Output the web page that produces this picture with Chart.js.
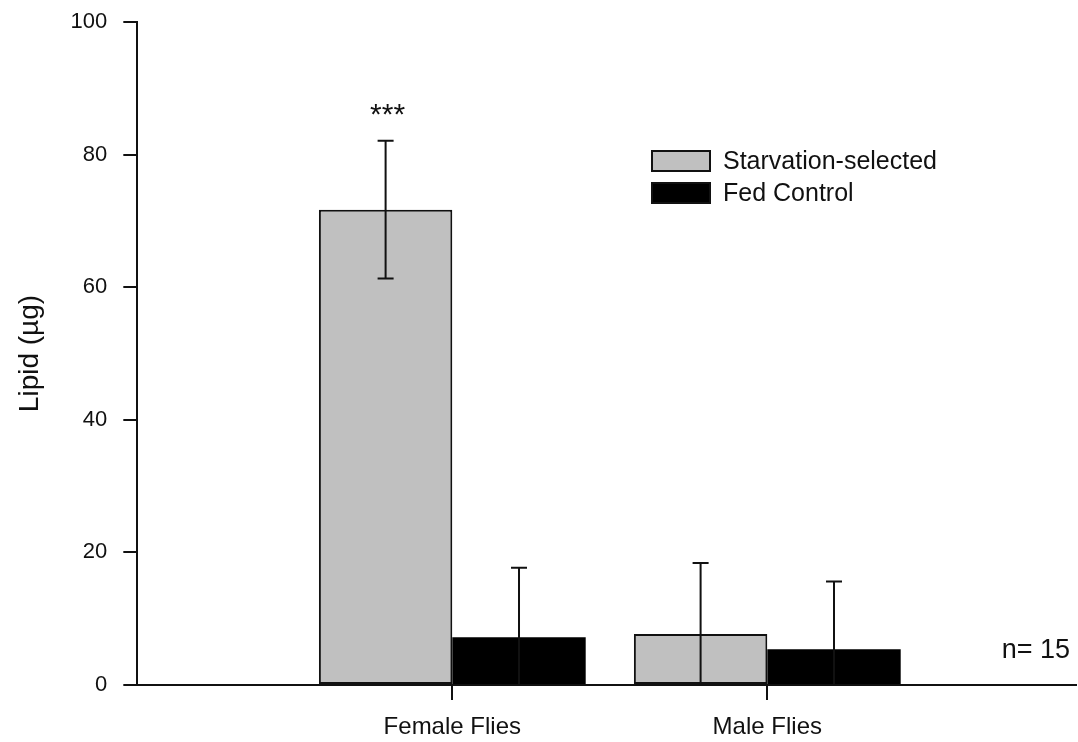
<!DOCTYPE html>
<html>
<head>
<meta charset="utf-8">
<script src="https://cdn.jsdelivr.net/npm/chart.js@4.4.1/dist/chart.umd.min.js"></script>
<style>
  html, body { margin: 0; padding: 0; background: #fff; }
  #wrap { width: 1078px; height: 742px; }
</style>
</head>
<body>
<div id="wrap"><canvas id="lipidChart" width="1078" height="742"></canvas></div>
<script>
const categories = ['Female Flies', 'Male Flies'];
const starvation = [71.7, 7.7];
const starvationErr = [10.4, 10.7];
const fedControl = [7.2, 5.4];
const fedErr = [10.5, 10.2];
const yTicks = [0, 20, 40, 60, 80, 100];
const seriesNames = ['Starvation-selected', 'Fed Control'];

const FONT = '"Liberation Sans", Arial, sans-serif';

// error bars drawn on top of each bar
const errorBars = {
    id: 'errorBars',
    afterDatasetsDraw(chart) {
        const ctx = chart.ctx;
        const y = chart.scales.y;
        const errs = [starvationErr, fedErr];
        ctx.save();
        ctx.strokeStyle = '#111';
        ctx.lineWidth = 2;
        chart.data.datasets.forEach((ds, d) => {
            chart.getDatasetMeta(d).data.forEach((bar, i) => {
                const v = ds.data[i].y;
                const hi = y.getPixelForValue(v + errs[d][i]);
                const loVal = v - errs[d][i];
                const lo = y.getPixelForValue(Math.max(loVal, 0));
                ctx.beginPath();
                ctx.moveTo(bar.x, hi);
                ctx.lineTo(bar.x, lo);
                ctx.moveTo(bar.x - 8, hi);
                ctx.lineTo(bar.x + 8, hi);
                if (loVal > 0) {
                    ctx.moveTo(bar.x - 8, lo);
                    ctx.lineTo(bar.x + 8, lo);
                }
                ctx.stroke();
            });
        });
        ctx.restore();
    }
};

// legend, significance stars and n label
const extras = {
    id: 'extras',
    afterDraw(chart) {
        const ctx = chart.ctx;
        const y = chart.scales.y;
        ctx.save();
        ctx.font = '25px ' + FONT;
        ctx.textBaseline = 'middle';
        const fills = ['#c0c0c0', '#000000'];
        seriesNames.forEach((name, i) => {
            const top = 151 + i * 32;
            ctx.fillStyle = fills[i];
            ctx.fillRect(652, top, 58, 20);
            ctx.strokeStyle = '#111';
            ctx.lineWidth = 2;
            ctx.strokeRect(652, top, 58, 20);
            ctx.fillStyle = '#111';
            ctx.textAlign = 'left';
            ctx.fillText(name, 723, top + 11);
        });

        const bar = chart.getDatasetMeta(0).data[0];
        const topY = y.getPixelForValue(starvation[0] + starvationErr[0]);
        ctx.textAlign = 'center';
        ctx.textBaseline = 'alphabetic';
        ctx.font = '30px ' + FONT;
        ctx.fillText('***', bar.x + 2, topY - 17);

        ctx.textBaseline = 'middle';
        ctx.font = '27px ' + FONT;
        ctx.textAlign = 'right';
        ctx.fillText('n= 15', 1070, 651);
        ctx.restore();
    }
};

const ctx = document.getElementById('lipidChart').getContext('2d');
const lipidChart = new Chart(ctx, {
    type: 'bar',
    data: {
        datasets: [{
            label: seriesNames[0],
            data: starvation.map((v, i) => ({ x: i + 1, y: v })),
            backgroundColor: '#c0c0c0',
            borderColor: '#111',
            borderWidth: 2,
            borderSkipped: false
        }, {
            label: seriesNames[1],
            data: fedControl.map((v, i) => ({ x: i + 1, y: v })),
            backgroundColor: '#000',
            borderColor: '#000',
            borderWidth: 0
        }]
    },
    options: {
        responsive: false,
        animation: false,
        layout: { padding: { left: 13, right: 2, top: 22, bottom: 0 } },
        categoryPercentage: 0.847,
        barPercentage: 1,
        plugins: {
            legend: { display: false },
            tooltip: { enabled: false }
        },
        scales: {
            x: {
                type: 'linear',
                offset: false,
                min: 0,
                max: 2.98,
                afterBuildTicks(scale) {
                    scale.ticks = categories.map((c, i) => ({ value: i + 1 }));
                },
                afterFit(scale) {
                    scale.height = 57;
                },
                ticks: {
                    callback: (v) => categories[v - 1],
                    font: { size: 24, family: FONT },
                    color: '#111',
                    padding: 13
                },
                grid: { offset: false, drawOnChartArea: false, tickLength: 15, color: '#111', lineWidth: 2 },
                border: { color: '#111', width: 2 }
            },
            y: {
                min: 0,
                max: 100,
                afterBuildTicks(scale) {
                    scale.ticks = yTicks.map(v => ({ value: v }));
                },
                afterFit(scale) {
                    scale.paddingTop = 0;
                    scale.paddingBottom = 0;
                },
                ticks: {
                    font: { size: 22, family: FONT },
                    color: '#111',
                    padding: 16
                },
                grid: { drawOnChartArea: false, tickLength: 14, color: '#111', lineWidth: 2 },
                border: { color: '#111', width: 2 },
                title: {
                    display: true,
                    text: 'Lipid (µg)',
                    font: { size: 28, family: FONT },
                    color: '#111',
                    padding: { top: 0, bottom: 8 }
                }
            }
        }
    },
    plugins: [errorBars, extras]
});
</script>
</body>
</html>
